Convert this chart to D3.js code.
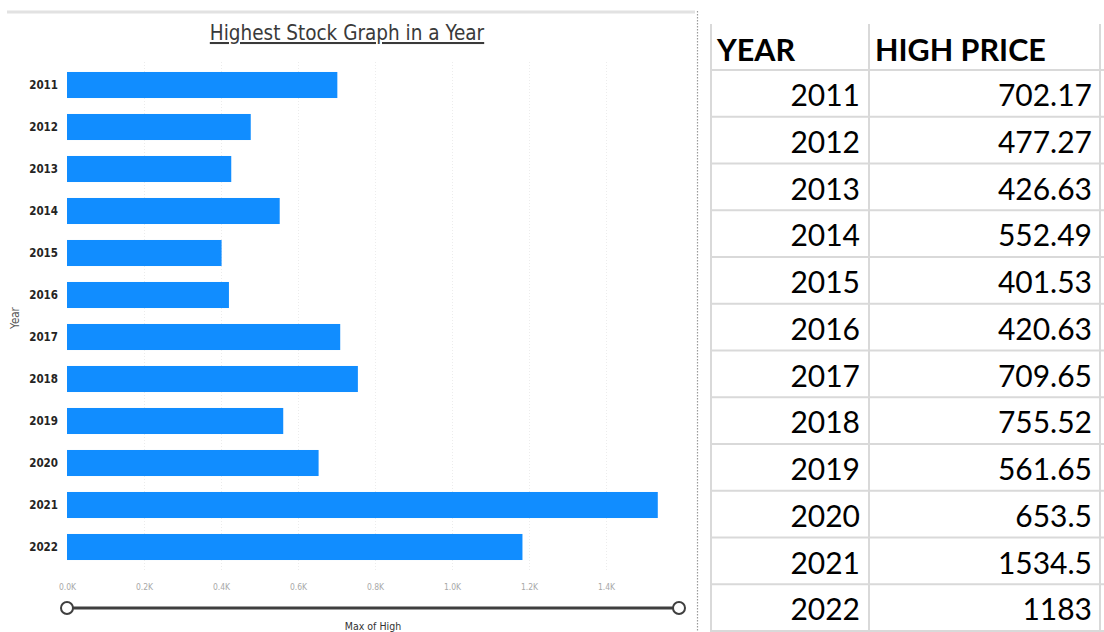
<!DOCTYPE html>
<html>
<head>
<meta charset="utf-8">
<script src="https://cdn.jsdelivr.net/npm/d3@7"></script>
<style>
  html, body { margin: 0; padding: 0; background: #fff; }
  svg { display: block; }
</style>
</head>
<body>
<svg id="chart" width="1104" height="632"></svg>
<script>
// Yearly highest stock price
const years = ["2011", "2012", "2013", "2014", "2015", "2016", "2017", "2018", "2019", "2020", "2021", "2022"];
const highs = [702.17, 477.27, 426.63, 552.49, 401.53, 420.63, 709.65, 755.52, 561.65, 653.5, 1534.5, 1183];
const xTicks = [0, 200, 400, 600, 800, 1000, 1200, 1400];
const tableHeaders = ["YEAR", "HIGH PRICE"];

const rows = years.map((y, i) => ({ year: y, high: highs[i] }));
const svg = d3.select("#chart");
const uiFont = "DejaVu Sans Condensed, DejaVu Sans";

// ---- panel frame ----
svg.append("line").attr("x1", 7).attr("x2", 695).attr("y1", 12).attr("y2", 12)
  .attr("stroke", "#e2e2e2").attr("stroke-width", 3);
svg.append("line").attr("x1", 697.5).attr("x2", 697.5).attr("y1", 11).attr("y2", 632)
  .attr("stroke", "#9a9a9a").attr("stroke-width", 1.2).attr("stroke-dasharray", "1.5,1.5");

// ---- bar chart ----
const x = d3.scaleLinear().domain([0, 1600]).range([67, 683]);
const y = d3.scaleBand().domain(years).range([64, 568]).paddingInner(0.38).paddingOuter(0.19);

svg.append("text")
  .attr("x", 347).attr("y", 40)
  .attr("text-anchor", "middle")
  .attr("font-family", uiFont)
  .attr("font-size", 20.5)
  .attr("fill", "#3a3a3a")
  .attr("text-decoration", "underline")
  .text("Highest Stock Graph in a Year");

// gridlines
svg.append("g").selectAll("line").data(xTicks.slice(1)).join("line")
  .attr("x1", d => x(d) + 0.5).attr("x2", d => x(d) + 0.5)
  .attr("y1", 62).attr("y2", 572)
  .attr("stroke", "#ececec").attr("stroke-width", 1).attr("stroke-dasharray", "1,2");

svg.append("g").selectAll("rect").data(rows).join("rect")
  .attr("x", x(0))
  .attr("y", d => y(d.year))
  .attr("width", d => x(d.high) - x(0))
  .attr("height", y.bandwidth())
  .attr("fill", "#118dff");

// y axis labels
const yAxis = svg.append("g").attr("transform", "translate(58,0)")
  .call(d3.axisLeft(y).tickSize(0).tickPadding(0));
yAxis.select(".domain").remove();
yAxis.selectAll("text")
  .attr("font-family", uiFont)
  .attr("font-weight", "bold")
  .attr("font-size", 11.5)
  .attr("fill", "#252423");

svg.append("text")
  .attr("transform", "translate(19,318) rotate(-90)")
  .attr("text-anchor", "middle")
  .attr("font-family", uiFont)
  .attr("font-size", 11.5)
  .attr("fill", "#555")
  .text("Year");

// x axis labels
const xAxis = svg.append("g").attr("transform", "translate(0,584)")
  .call(d3.axisBottom(x).tickValues(xTicks).tickSize(0).tickPadding(0)
    .tickFormat(d => (d / 1000).toFixed(1) + "K"));
xAxis.select(".domain").remove();
xAxis.selectAll("text")
  .attr("font-family", uiFont)
  .attr("font-size", 8.5)
  .attr("fill", "#a8a8a8");

// zoom slider
svg.append("line").attr("x1", x(0)).attr("x2", 679).attr("y1", 608).attr("y2", 608)
  .attr("stroke", "#3f3f3f").attr("stroke-width", 3);
svg.append("g").selectAll("circle").data([x(0), 679]).join("circle")
  .attr("cx", d => d).attr("cy", 608).attr("r", 6)
  .attr("fill", "#fff").attr("stroke", "#3f3f3f").attr("stroke-width", 2);

svg.append("text")
  .attr("x", 373).attr("y", 630)
  .attr("text-anchor", "middle")
  .attr("font-family", uiFont)
  .attr("font-size", 10.5)
  .attr("fill", "#333")
  .text("Max of High");

// ---- data table ----
const colX = [711, 869, 1100];
const headTop = 24, headH = 46, rowH = 46.75;
const t = svg.append("g");
const gridColor = "#d9d9d9";

// horizontal rules
const ruleYs = [headTop, headTop + headH].concat(rows.map((d, i) => headTop + headH + (i + 1) * rowH));
t.selectAll("line.h").data(ruleYs.slice(1)).join("line").attr("class", "h")
  .attr("x1", colX[0]).attr("x2", 1104)
  .attr("y1", d => d).attr("y2", d => d)
  .attr("stroke", gridColor).attr("stroke-width", 2);
t.selectAll("line.v").data(colX).join("line").attr("class", "v")
  .attr("x1", d => d).attr("x2", d => d)
  .attr("y1", headTop).attr("y2", 632)
  .attr("stroke", gridColor).attr("stroke-width", 2);

t.selectAll("text.head").data(tableHeaders).join("text").attr("class", "head")
  .attr("x", (d, i) => colX[i] + 6)
  .attr("y", headTop + 37)
  .attr("font-family", "Lato, Open Sans, sans-serif")
  .attr("font-weight", "bold")
  .attr("font-size", 30.5)
  .attr("fill", "#000")
  .text(d => d);

const body = t.selectAll("g.row").data(rows).join("g").attr("class", "row")
  .attr("transform", (d, i) => `translate(0,${headTop + headH + i * rowH})`);
body.append("text")
  .attr("x", colX[1] - 9).attr("y", 36)
  .attr("text-anchor", "end")
  .attr("font-family", "Lato, Open Sans, sans-serif")
  .attr("font-size", 30)
  .attr("fill", "#000")
  .text(d => d.year);
body.append("text")
  .attr("x", colX[2] - 8).attr("y", 36)
  .attr("text-anchor", "end")
  .attr("font-family", "Lato, Open Sans, sans-serif")
  .attr("font-size", 30)
  .attr("fill", "#000")
  .text(d => String(d.high));
</script>
</body>
</html>
